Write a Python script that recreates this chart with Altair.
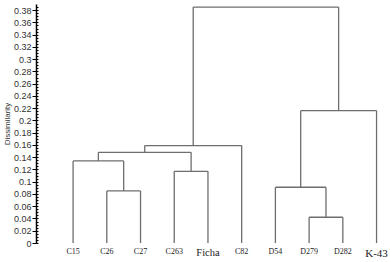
import altair as alt
import pandas as pd

leaves = ["C15", "C26", "C27", "C263", "Ficha", "C82", "D54", "D279", "D282", "K-43"]
label_sizes = [8, 8, 8, 8, 10.5, 8, 8, 8, 8, 11]
# merges: (left child, right child, height); child ids < 10 are leaves
merge_left = [1, 0, 3, 11, 13, 7, 6, 16, 14]
merge_right = [2, 10, 4, 12, 5, 8, 15, 9, 17]
merge_height = [0.085, 0.134, 0.117, 0.148, 0.159, 0.042, 0.091, 0.216, 0.385]
major_ticks = [round(0.02 * i, 2) for i in range(20)]
minor_ticks = [round(0.005 * i, 3) for i in range(78)]

n = len(leaves)
pos = {i: float(i) for i in range(n)}
hgt = {i: 0.0 for i in range(n)}
segs = []
for k, (a, b, h) in enumerate(zip(merge_left, merge_right, merge_height)):
    node = n + k
    segs.append({"x": pos[a], "x2": pos[a], "y": hgt[a], "y2": h})
    segs.append({"x": pos[b], "x2": pos[b], "y": hgt[b], "y2": h})
    segs.append({"x": pos[a], "x2": pos[b], "y": h, "y2": h})
    pos[node] = (pos[a] + pos[b]) / 2
    hgt[node] = h
seg_df = pd.DataFrame(segs)
lab_df = pd.DataFrame({"x": list(range(n)), "label": leaves, "size": label_sizes, "y": [0.0] * n})
minor_df = pd.DataFrame({"v": minor_ticks})

xs = alt.Scale(domain=[-1.1, 9.28], nice=False, zero=False)
ys = alt.Scale(domain=[0, 0.39], nice=False)

links = alt.Chart(seg_df).mark_rule(color="#6e6e6e", strokeWidth=1.3).encode(
    x=alt.X("x:Q", scale=xs, axis=None),
    x2="x2:Q",
    y=alt.Y("y:Q", scale=ys, title="Dissimilarity",
            axis=alt.Axis(orient="left", values=major_ticks, format="~g", labelFont="Liberation Sans",
                          labelFontSize=9, labelColor="#333333", tickColor="#000000",
                          domainColor="#000000", domainWidth=1.5, tickSize=4, labelPadding=1,
                          titleFont="Liberation Sans", titleFontSize=8, titleFontWeight="normal",
                          titleColor="#333333", titlePadding=2, grid=False)),
    y2="y2:Q",
)

minor = alt.Chart(minor_df).mark_rule(opacity=0).encode(
    y=alt.Y("v:Q", scale=ys,
            axis=alt.Axis(orient="left", values=minor_ticks, labels=False, title=None, domain=False,
                          tickSize=2, tickColor="#000000", offset=-2, grid=False)),
)

labels = alt.Chart(lab_df).mark_text(font="Liberation Serif", baseline="top", dy=5, color="#222222").encode(
    x=alt.X("x:Q", scale=xs),
    y=alt.Y("y:Q", scale=ys, axis=None),
    text="label:N",
    size=alt.Size("size:Q", scale=None, legend=None),
)

chart = alt.layer(minor, links, labels).resolve_axis(y="independent").properties(
    width=350, height=239,
    autosize=alt.AutoSizeParams(type="none"),
    padding={"left": 36, "top": 4, "right": 4, "bottom": 19},
    background="white",
).configure_view(stroke=None)

chart.save("out.html", embed_options={"renderer": "svg", "actions": False})
